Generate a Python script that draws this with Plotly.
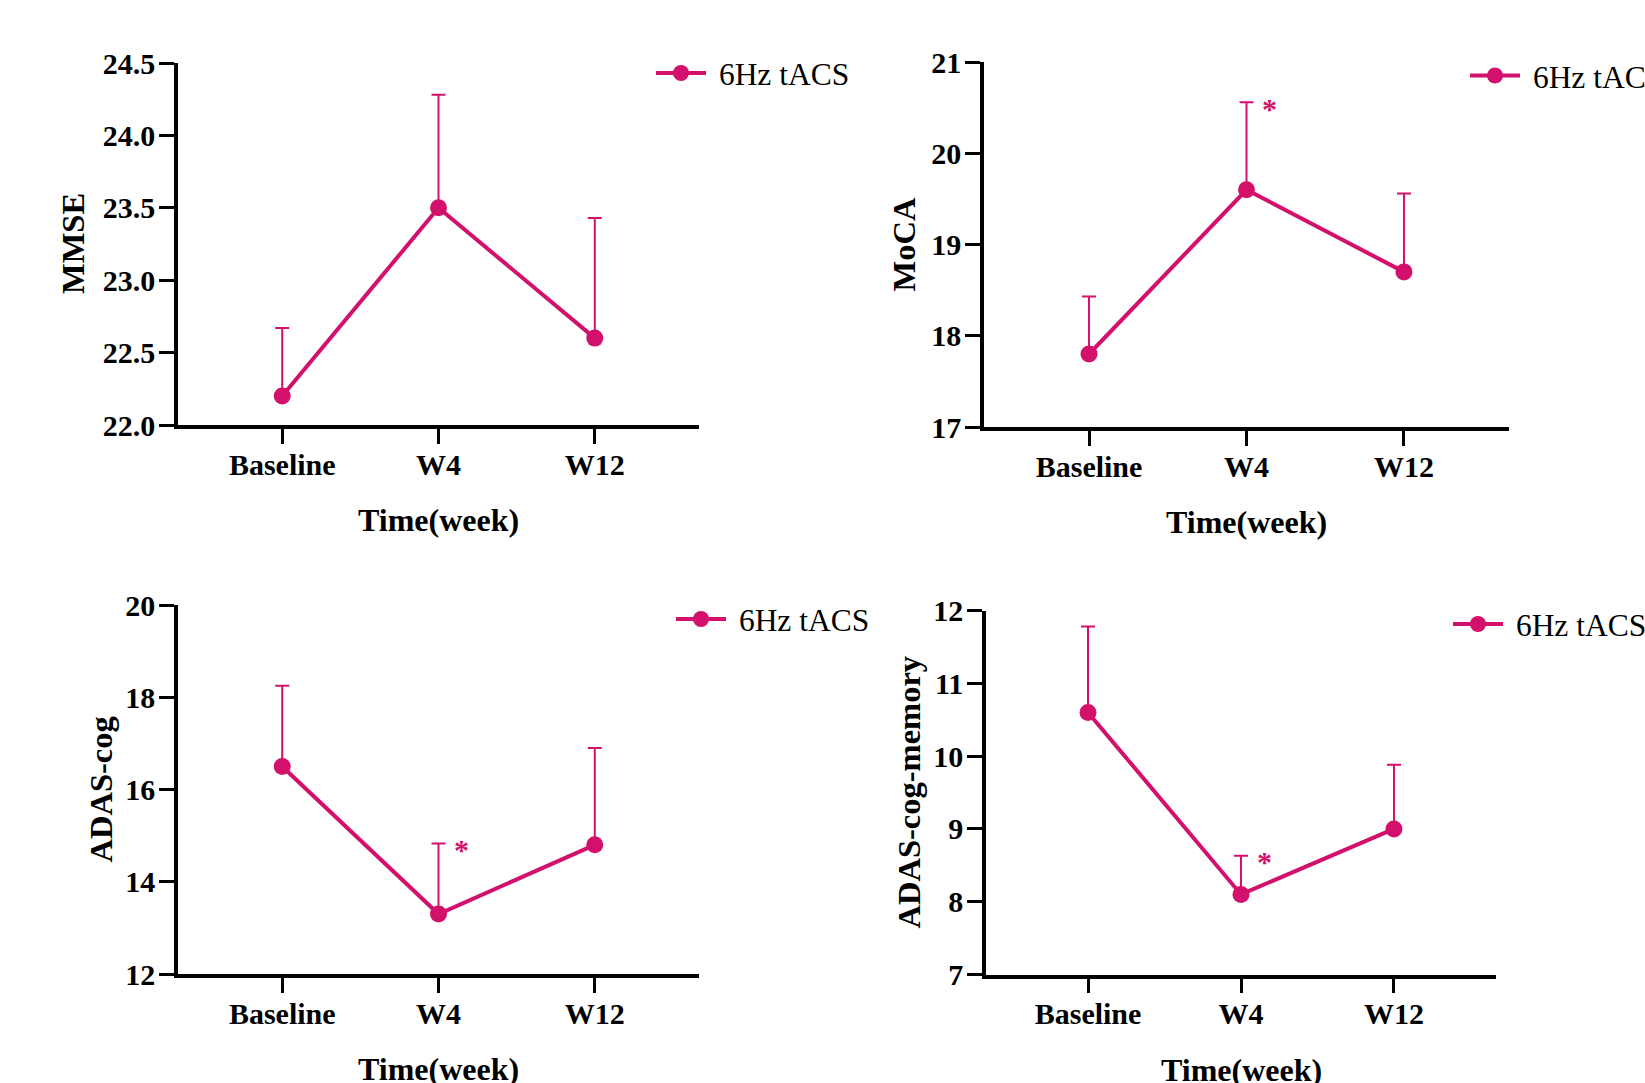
import plotly.graph_objects as go

W, H = 1645, 1083

categories = ["Baseline", "W4", "W12"]
series_name = "6Hz tACS"

mmse_mean = [22.2, 23.5, 22.6]
mmse_err = [0.47, 0.78, 0.83]

moca_mean = [17.8, 19.6, 18.7]
moca_err = [0.63, 0.96, 0.86]

adas_mean = [16.5, 13.3, 14.8]
adas_err = [1.75, 1.53, 2.1]

adasmem_mean = [10.6, 8.1, 9.0]
adasmem_err = [1.18, 0.53, 0.88]

y_titles = ["MMSE", "MoCA", "ADAS-cog", "ADAS-cog-memory"]
x_title = "Time(week)"

COLOR = "#D3106B"
FONT = "Liberation Serif"

# pixel boxes: (x0, x1, ytop, ybottom)
boxes = [
    (178, 699, 63, 425),
    (984, 1509, 62, 427),
    (178, 699, 605, 974),
    (986, 1496, 610.5, 974.5),
]
yranges = [[22, 24.5], [17, 21], [12, 20], [7, 12]]
ydticks = [0.5, 1, 2, 1]
yfmts = [".1f", "d", "d", "d"]
ytitle_x = [73, 904, 100, 908]
legend_pos = [(657, 73), (1471, 75.5), (677, 619), (1454, 624)]
star = [False, True, True, True]

means = [mmse_mean, moca_mean, adas_mean, adasmem_mean]
errs = [mmse_err, moca_err, adas_err, adasmem_err]

fig = go.Figure()
annotations = []
layout = dict(
    width=W, height=H, autosize=False,
    margin=dict(l=0, r=0, t=0, b=0, autoexpand=False),
    paper_bgcolor="white", plot_bgcolor="white",
    font=dict(family=FONT, color="black"),
)

for i in range(4):
    n = "" if i == 0 else str(i + 1)
    xa, ya = "x" + n, "y" + n
    leg = "legend" + n
    fig.add_trace(go.Scatter(
        x=categories, y=means[i], xaxis=xa, yaxis=ya,
        mode="lines+markers", name="\u00a0" + series_name, legend=leg,
        line=dict(color=COLOR, width=4),
        marker=dict(color=COLOR, size=17),
        error_y=dict(type="data", symmetric=False, array=errs[i],
                     arrayminus=[0] * len(errs[i]), color=COLOR,
                     thickness=2, width=7),
        cliponaxis=False,
    ))
    x0, x1, yt, yb = boxes[i]
    common_ax = dict(showline=True, linecolor="black", linewidth=3.5,
                     ticks="outside", ticklen=15, tickwidth=3, tickcolor="black",
                     showgrid=False, zeroline=False, automargin=False,
                     tickfont=dict(family=FONT, size=30, color="black", weight="bold"))
    layout["xaxis" + n] = dict(
        domain=[x0 / W, x1 / W], anchor=ya, type="category",
        range=[-0.667, 2.667], ticklabelstandoff=-5, **common_ax)
    layout["yaxis" + n] = dict(
        domain=[1 - yb / H, 1 - yt / H], anchor=xa,
        range=yranges[i], dtick=ydticks[i], tick0=yranges[i][0],
        tickformat=yfmts[i], ticklabelstandoff=-2, **common_ax)
    # y title
    annotations.append(dict(
        text="<b>%s</b>" % y_titles[i], xref="paper", yref="paper",
        x=ytitle_x[i] / W, y=1 - (yt + yb) / 2 / H, textangle=-90,
        xanchor="center", yanchor="middle", showarrow=False,
        font=dict(family=FONT, size=32.5, color="black")))
    # x title
    annotations.append(dict(
        text="<b>%s</b>" % x_title, xref="paper", yref="paper",
        x=(x0 + x1) / 2 / W, y=1 - (yb + 95) / H,
        xanchor="center", yanchor="middle", showarrow=False,
        font=dict(family=FONT, size=32, color="black")))
    if star[i]:
        annotations.append(dict(
            text="<b>*</b>", xref=xa, yref=ya, x="W4",
            y=means[i][1] + errs[i][1], xshift=23, yshift=-6,
            xanchor="center", yanchor="middle", showarrow=False,
            font=dict(family=FONT, size=30, color=COLOR)))
    lx, ly = legend_pos[i]
    layout[leg] = dict(
        x=(lx - 6) / W, y=1 - ly / H, xanchor="left", yanchor="middle",
        bgcolor="rgba(0,0,0,0)", borderwidth=0, itemwidth=50,
        font=dict(family=FONT, size=31.5, color="black"))

layout["annotations"] = annotations
layout["showlegend"] = True
fig.update_layout(**layout)
fig.write_html("out.html")
